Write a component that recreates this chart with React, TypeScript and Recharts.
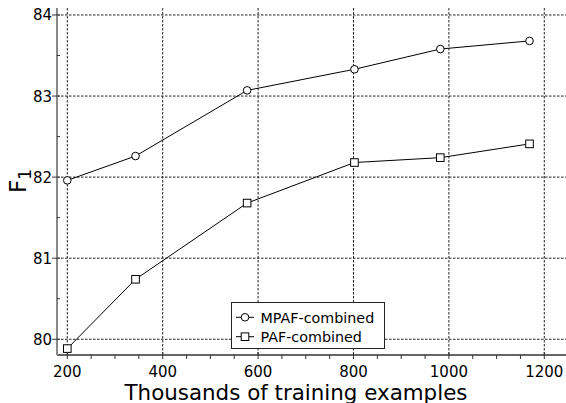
import { LineChart, Line, XAxis, YAxis, CartesianGrid, Legend } from 'recharts'

const trainingSizes = [200, 343, 577, 802, 982, 1169]
const mpafCombined = [81.96, 82.26, 83.07, 83.33, 83.58, 83.68]
const pafCombined = [79.885, 80.74, 81.68, 82.18, 82.24, 82.41]

const xTicks = [200, 250, 300, 350, 400, 450, 500, 550, 600, 650, 700, 750, 800, 850, 900, 950, 1000, 1050, 1100, 1150, 1200]
const xGrid = [200, 400, 600, 800, 1000, 1200]
const yTicks = [80, 80.5, 81, 81.5, 82, 82.5, 83, 83.5, 84]
const yGrid = [80, 81, 82, 83, 84]

const seriesNames = ['MPAF-combined', 'PAF-combined']

const data = trainingSizes.map((size, i) => ({
  size,
  mpaf: mpafCombined[i],
  paf: pafCombined[i],
}))

const FONT = '"DejaVu Sans", sans-serif'

const XTick = (props: any) => {
  const { x, y, payload } = props
  const major = payload.value % 200 === 0
  return (
    <g>
      <line x1={x} x2={x} y1={major ? y - 3 : y} y2={y + 4} stroke="#333" strokeWidth={1} />
      {major && (
        <text x={x} y={y + 21.5} textAnchor="middle" fontSize={15} fontFamily={FONT} fill="#000">
          {payload.value}
        </text>
      )}
    </g>
  )
}

const YTick = (props: any) => {
  const { x, y, payload } = props
  const major = Number.isInteger(payload.value)
  return (
    <g>
      <line x1={major ? x - 5 : x} x2={x + 3} y1={y} y2={y} stroke="#333" strokeWidth={1} />
      {major && (
        <text x={x - 5} y={y + 5.5} textAnchor="end" fontSize={15} fontFamily={FONT} fill="#000">
          {payload.value}
        </text>
      )}
    </g>
  )
}

const CircleDot = (props: any) => {
  const { cx, cy, index } = props
  return <circle key={`c${index}`} cx={cx} cy={cy} r={3.8} fill="#fff" stroke="#000" strokeWidth={1} />
}

const SquareDot = (props: any) => {
  const { cx, cy, index } = props
  return <rect key={`s${index}`} x={cx - 3.8} y={cy - 3.8} width={7.6} height={7.6} fill="#fff" stroke="#000" strokeWidth={1} />
}

// legend drawn as svg so the text uses the same font metrics as the axes
const LegendBox = () => (
  <svg width={156} height={48} style={{ display: 'block' }}>
    <rect x={1.5} y={0.5} width={153} height={46} fill="#fff" stroke="#222" strokeWidth={1} />
    {seriesNames.map((name, i) => {
      const cy = i === 0 ? 15.3 : 34.7
      return (
        <g key={name}>
          <line x1={6} x2={24} y1={cy} y2={cy} stroke="#000" strokeWidth={1} />
          {i === 0 ? (
            <circle cx={15} cy={cy} r={3.8} fill="#fff" stroke="#000" />
          ) : (
            <rect x={11.2} y={cy - 3.8} width={7.6} height={7.6} fill="#fff" stroke="#000" />
          )}
          <text x={30.5} y={cy + 5.2} fontSize={14.3} fontFamily={FONT} fill="#000">
            {name}
          </text>
        </g>
      )
    })}
  </svg>
)

export default function App() {
  return (
    <div style={{ position: 'absolute', left: 0, top: 0, width: 566, height: 403, background: '#fff' }}>
      <LineChart width={566} height={403} data={data} margin={{ top: 8, right: 0, left: 0, bottom: 0 }}>
        <CartesianGrid
          stroke="#222"
          strokeDasharray="2.5 1.5"
          verticalValues={xGrid}
          horizontalValues={yGrid}
        />
        <XAxis
          dataKey="size"
          type="number"
          domain={[178.4, 1245.5]}
          allowDataOverflow
          ticks={xTicks}
          interval={0}
          height={48}
          tickSize={0}
          tickMargin={0}
          tickLine={false}
          tick={<XTick />}
          axisLine={{ stroke: '#333', strokeWidth: 1.5 }}
          label={{
            content: () => (
              <text x={296} y={399.5} textAnchor="middle" fontSize={21.4} fontFamily={FONT} fill="#000">
                Thousands of training examples
              </text>
            ),
          }}
        />
        <YAxis
          type="number"
          domain={[79.806, 84.086]}
          allowDataOverflow
          ticks={yTicks}
          interval={0}
          width={57}
          tickSize={0}
          tickMargin={0}
          tickLine={false}
          tick={<YTick />}
          axisLine={{ stroke: '#888', strokeWidth: 2 }}
          label={{
            content: () => (
              <text transform="translate(26,193) rotate(-90)" textAnchor="start" fontSize={23} fontFamily={FONT} fill="#000">
                F
                <tspan fontSize={17} dy={5}>1</tspan>
              </text>
            ),
          }}
        />
        <Legend
          layout="vertical"
          verticalAlign="middle"
          align="center"
          wrapperStyle={{ left: 230, top: 302, width: 156, height: 48 }}
          content={() => <LegendBox />}
        />
        <Line
          dataKey="mpaf"
          name={seriesNames[0]}
          stroke="#000"
          strokeWidth={1}
          dot={<CircleDot />}
          activeDot={false}
          isAnimationActive={false}
        />
        <Line
          dataKey="paf"
          name={seriesNames[1]}
          stroke="#000"
          strokeWidth={1}
          dot={<SquareDot />}
          activeDot={false}
          isAnimationActive={false}
        />
      </LineChart>
    </div>
  )
}
